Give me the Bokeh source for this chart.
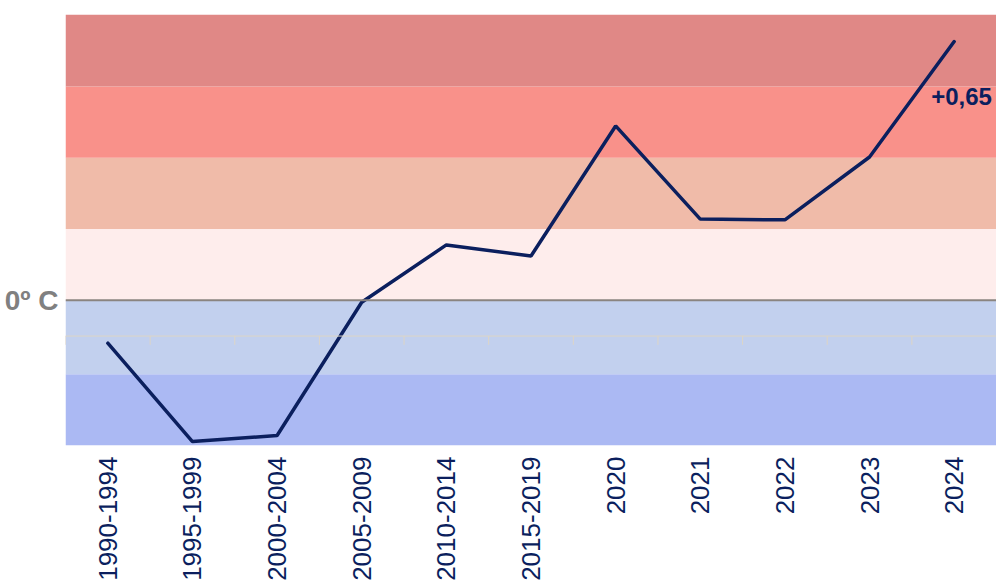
from math import pi
from bokeh.plotting import figure
from bokeh.models import Range1d, FixedTicker, Span, Label
from bokeh.embed import file_html
from bokeh.resources import INLINE

# ---- data ----
categories = ["1990-1994", "1995-1999", "2000-2004", "2005-2009", "2010-2014",
              "2015-2019", "2020", "2021", "2022", "2023", "2024"]
anomaly = [-0.108, -0.355, -0.340, -0.005, 0.139, 0.111, 0.438, 0.204, 0.202, 0.360, 0.650]
band_edges = [-0.365, -0.186, 0.0, 0.179, 0.358, 0.537, 0.718]
band_colors = ["#abb9f3", "#c2d0ee", "#feedec", "#f0bba9", "#f9918a", "#e08886"]
zero_label = "0º C"
last_label = "+0,65"
axis_cross = -0.09

NAVY = "#0b1f5e"
FONT = "Liberation Sans"

n = len(categories)
xs = list(range(n))
bounds = [i - 0.5 for i in range(n + 1)]

p = figure(width=996, height=583, output_backend="svg", toolbar_location=None,
           x_range=Range1d(-0.5, n - 0.5), y_range=Range1d(band_edges[0], band_edges[-1]),
           min_border_left=65, min_border_right=0, min_border_top=14, min_border_bottom=0)
p.outline_line_color = None
p.xgrid.visible = False
p.ygrid.visible = False
p.background_fill_color = "white"

# bands
p.quad(left=-0.5, right=n - 0.5, bottom=band_edges[:-1], top=band_edges[1:],
       fill_color=band_colors, line_color=None)

# faint category axis line with ticks
p.add_layout(Span(location=axis_cross, dimension="width", line_color="#ddd5c6", line_width=1))
p.segment(x0=bounds, x1=bounds, y0=axis_cross, y1=axis_cross - 0.022,
          line_color="#ddd5c6", line_width=1)

# zero line
p.add_layout(Span(location=0, dimension="width", line_color="#8a8480", line_width=2))

# data line
p.line(xs, anomaly, line_color=NAVY, line_width=3.5, line_cap="round")

p.add_layout(Label(x=xs[-1], y=anomaly[-1], text=last_label, x_offset=-23, y_offset=-55,
                   text_baseline="middle", text_align="left",
                   text_font=FONT, text_font_style="bold",
                   text_font_size="24px", text_color=NAVY))

# x axis
xa = p.xaxis[0]
xa.ticker = FixedTicker(ticks=xs)
xa.major_label_overrides = {i: c for i, c in zip(xs, categories)}
xa.major_label_orientation = pi / 2
xa.major_label_text_font = FONT
xa.major_label_text_font_size = "26px"
xa.major_label_text_color = NAVY
xa.axis_line_color = None
xa.major_tick_line_color = None
xa.minor_tick_line_color = None
xa.major_tick_out = 0
xa.major_tick_in = 0
xa.major_label_standoff = 11

# y axis
ya = p.yaxis[0]
ya.ticker = FixedTicker(ticks=[0])
ya.major_label_overrides = {0: zero_label}
ya.major_label_text_font = FONT
ya.major_label_text_font_style = "bold"
ya.major_label_text_font_size = "28px"
ya.major_label_text_color = "#808080"
ya.axis_line_color = None
ya.major_tick_line_color = None
ya.minor_tick_line_color = None
ya.major_tick_out = 0
ya.major_tick_in = 0
ya.major_label_standoff = 7

open("out.html", "w").write(file_html(p, INLINE))
